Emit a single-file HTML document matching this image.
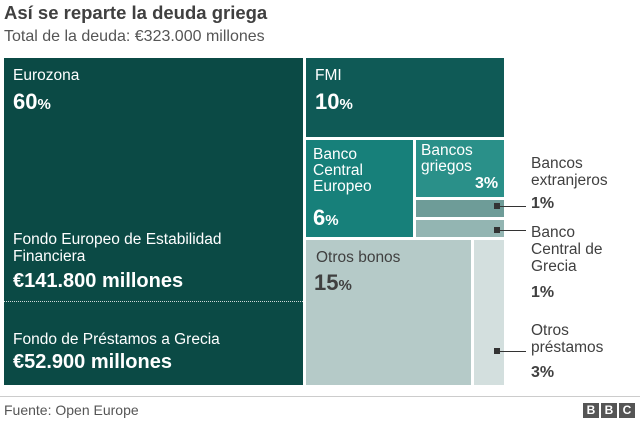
<!DOCTYPE html><html><head><style>
body{margin:0;width:640px;height:422px;background:#fff;font-family:"Liberation Sans",Arial,sans-serif;position:relative;overflow:hidden}
.a{position:absolute}
.t{color:#fff}
.b{font-weight:bold}
</style></head><body>
<div class="a b" style="left:4px;top:2px;font-size:18.5px;color:#404040">Así se reparte la deuda griega</div>
<div class="a" style="left:4px;top:28px;font-size:16px;color:#555">Total de la deuda: €323.000 millones</div>

<div class="a" style="left:4px;top:58px;width:299px;height:327px;background:#0b4a45"></div>
<div class="a t" style="left:13px;top:67px;font-size:15.5px">Eurozona</div>
<div class="a t b" style="left:13px;top:89px;font-size:22px">60<span style="font-size:15px">%</span></div>
<div class="a t" style="left:13px;top:231px;font-size:15.5px;line-height:17px;width:235px">Fondo Europeo de Estabilidad Financiera</div>
<div class="a t b" style="left:13px;top:270px;font-size:20px">€141.800 millones</div>
<div class="a" style="left:4px;top:301px;width:299px;border-top:1px dotted #cfd8d7"></div>
<div class="a t" style="left:13px;top:331px;font-size:15.5px">Fondo de Préstamos a Grecia</div>
<div class="a t b" style="left:13px;top:351px;font-size:20px">€52.900 millones</div>

<div class="a" style="left:306px;top:58px;width:198px;height:79px;background:#0f5a56"></div>
<div class="a t" style="left:315px;top:67px;font-size:15.5px">FMI</div>
<div class="a t b" style="left:315px;top:89px;font-size:22px">10<span style="font-size:15px">%</span></div>

<div class="a" style="left:306px;top:140px;width:107px;height:97px;background:#17807a"></div>
<div class="a t" style="left:313px;top:147px;font-size:15.5px;line-height:16px">Banco<br>Central<br>Europeo</div>
<div class="a t b" style="left:313px;top:205px;font-size:22px">6<span style="font-size:15px">%</span></div>

<div class="a" style="left:416px;top:140px;width:88px;height:57px;background:#2a9089"></div>
<div class="a t" style="left:421px;top:143px;font-size:15.5px;line-height:16px">Bancos<br>griegos</div>
<div class="a t b" style="left:475px;top:175px;font-size:16px">3%</div>

<div class="a" style="left:416px;top:200px;width:88px;height:17px;background:#6e9c98"></div>
<div class="a" style="left:416px;top:220px;width:88px;height:17px;background:#93b5b2"></div>

<div class="a" style="left:306px;top:240px;width:165px;height:145px;background:#b5cac8"></div>
<div class="a" style="left:316px;top:249px;font-size:15.5px;color:#404040">Otros bonos</div>
<div class="a b" style="left:314px;top:270px;font-size:22px;color:#404040">15<span style="font-size:15px">%</span></div>
<div class="a" style="left:474px;top:240px;width:30px;height:145px;background:#d3dfde"></div>

<div class="a" style="left:494px;top:203px;width:6px;height:6px;background:#333"></div>
<div class="a" style="left:500px;top:206px;width:26px;height:1px;background:#333"></div>
<div class="a" style="left:494px;top:227px;width:6px;height:6px;background:#333"></div>
<div class="a" style="left:500px;top:230px;width:26px;height:1px;background:#333"></div>
<div class="a" style="left:494px;top:348px;width:6px;height:6px;background:#333"></div>
<div class="a" style="left:500px;top:351px;width:26px;height:1px;background:#333"></div>

<div class="a" style="left:531px;top:155px;font-size:15.5px;line-height:17px;color:#404040">Bancos<br>extranjeros</div>
<div class="a b" style="left:531px;top:195px;font-size:16px;color:#404040">1%</div>
<div class="a" style="left:531px;top:224px;font-size:15.5px;line-height:17px;color:#404040">Banco<br>Central de<br>Grecia</div>
<div class="a b" style="left:531px;top:284px;font-size:16px;color:#404040">1%</div>
<div class="a" style="left:531px;top:322px;font-size:15.5px;line-height:17px;color:#404040">Otros<br>préstamos</div>
<div class="a b" style="left:531px;top:364px;font-size:16px;color:#404040">3%</div>

<div class="a" style="left:0;top:396px;width:640px;height:1px;background:#ccc"></div>
<div class="a" style="left:4px;top:402px;font-size:14px;color:#555">Fuente: Open Europe</div>
<div class="a" style="left:583px;top:403px;display:flex;gap:2px">
<div style="width:16px;height:15px;background:#555;color:#fff;font-size:12px;font-weight:bold;text-align:center;line-height:15px">B</div>
<div style="width:16px;height:15px;background:#555;color:#fff;font-size:12px;font-weight:bold;text-align:center;line-height:15px">B</div>
<div style="width:16px;height:15px;background:#555;color:#fff;font-size:12px;font-weight:bold;text-align:center;line-height:15px">C</div>
</div>
</body></html>
